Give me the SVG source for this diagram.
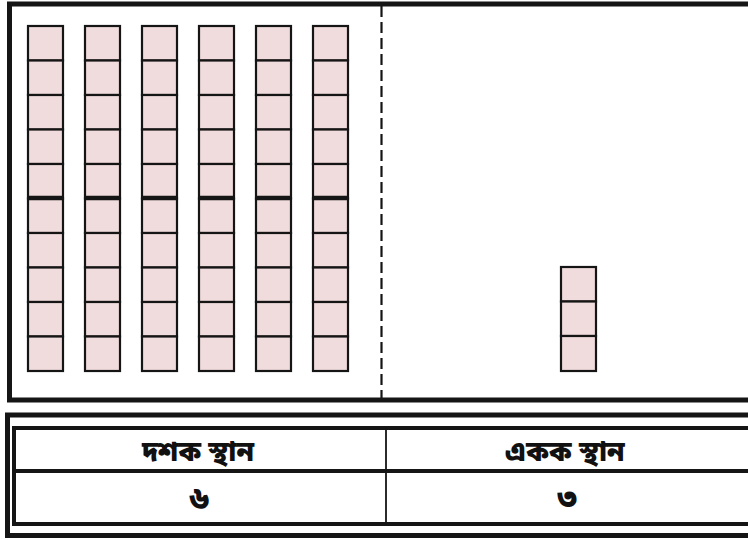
<svg xmlns="http://www.w3.org/2000/svg" width="748" height="540" viewBox="0 0 748 540">
<defs>
<style>
.frame{fill:none;stroke:#151515;stroke-width:5}
.inner{fill:none;stroke:#151515;stroke-width:4}
.box{fill:#f0dcdc;stroke:#151515;stroke-width:2.2}
.mid{stroke:#151515;stroke-width:4.5}
.lbl{font-family:"Noto Sans Bengali","Noto Sans","Lohit Bengali",sans-serif;font-weight:900;font-size:28px;fill:#111;text-anchor:middle}
.num{font-family:"Noto Sans Bengali","Noto Sans","Lohit Bengali",sans-serif;font-weight:900;font-size:32px;fill:#111;text-anchor:middle}
</style>
<g id="col">
<rect class="box" x="0" y="0" width="35" height="34.5"/>
<rect class="box" x="0" y="34.5" width="35" height="34.5"/>
<rect class="box" x="0" y="69" width="35" height="34.5"/>
<rect class="box" x="0" y="103.5" width="35" height="34.5"/>
<rect class="box" x="0" y="138" width="35" height="34.5"/>
<rect class="box" x="0" y="172.5" width="35" height="34.5"/>
<rect class="box" x="0" y="207" width="35" height="34.5"/>
<rect class="box" x="0" y="241.5" width="35" height="34.5"/>
<rect class="box" x="0" y="276" width="35" height="34.5"/>
<rect class="box" x="0" y="310.5" width="35" height="34.5"/>
<line class="mid" x1="-1" y1="172" x2="36" y2="172"/>
</g>
</defs>
<rect width="748" height="540" fill="#fff"/>
<g id="top-frame">
<rect class="frame" x="9.5" y="4" width="760" height="396"/>
<line x1="381.5" y1="6" x2="381.5" y2="398" stroke="#151515" stroke-width="2.2" stroke-dasharray="11,5"/>
</g>
<g id="tens">
<use href="#col" x="28" y="26"/>
<use href="#col" x="85" y="26"/>
<use href="#col" x="142" y="26"/>
<use href="#col" x="199" y="26"/>
<use href="#col" x="256" y="26"/>
<use href="#col" x="313" y="26"/>
</g>
<g id="ones">
<rect class="box" x="561" y="267" width="35" height="34.5"/>
<rect class="box" x="561" y="301.5" width="35" height="34.5"/>
<rect class="box" x="561" y="336" width="35" height="35"/>
</g>
<g id="table">
<rect class="frame" x="7.5" y="415" width="760" height="120.5"/>
<rect class="inner" x="14" y="428" width="760" height="96"/>
<line class="inner" x1="14" y1="471" x2="748" y2="471"/>
<line x1="386" y1="428" x2="386" y2="524" stroke="#151515" stroke-width="1.8"/>
<text class="lbl" x="198" y="461">দশক স্থান</text>
<text class="lbl" x="565" y="461">একক স্থান</text>
<text class="num" x="199" y="509">৬</text>
<text class="num" x="567" y="509">৩</text>
</g>
</svg>
